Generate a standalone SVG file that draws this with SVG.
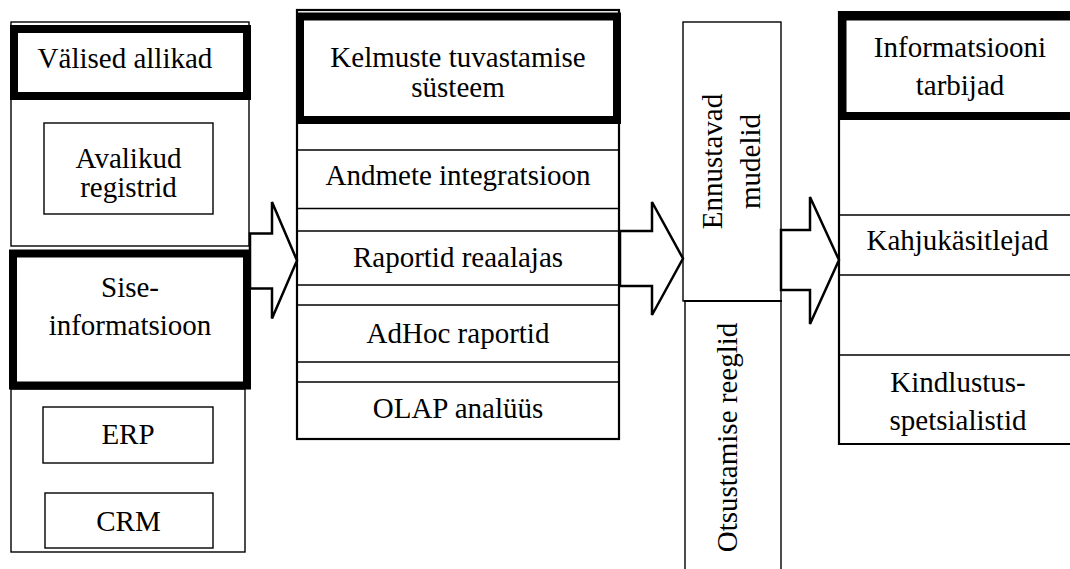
<svg xmlns="http://www.w3.org/2000/svg" width="1070" height="569" viewBox="0 0 1070 569" font-family="'Liberation Serif', 'Times New Roman', 'DejaVu Serif', serif">
<style>
.thin{fill:none;stroke:#000;stroke-width:1.4}
.med{fill:none;stroke:#000;stroke-width:2.2}
.thick{fill:none;stroke:#000;stroke-width:8}
.arrow{fill:#fff;stroke:#000;stroke-width:2.5;stroke-linejoin:miter}
.t{font-family:'Liberation Serif','Times New Roman','DejaVu Serif',serif;font-size:29px;fill:#000;text-anchor:middle}
</style>
<rect x="0" y="0" width="1070" height="569" fill="#fff"/>

<g id="col1-valised">
  <rect class="thin" x="11" y="22" width="238" height="224"/>
  <rect class="thick" x="14" y="29" width="233" height="67"/>
  <text class="t" x="125" y="68">Välised allikad</text>
</g>
<g id="avalikud-registrid">
  <rect class="thin" x="44" y="123" width="169" height="91"/>
  <text class="t" x="128.5" y="168">Avalikud</text>
  <text class="t" x="128.5" y="197">registrid</text>
</g>
<g id="col1-sise">
  <rect class="thin" x="11" y="389" width="234" height="163"/>
  <rect class="thick" x="13" y="253.5" width="234" height="132"/>
  <text class="t" x="130" y="297">Sise-</text>
  <text class="t" x="130" y="335">informatsioon</text>
</g>
<g id="erp">
  <rect class="thin" x="43" y="407" width="170" height="56"/>
  <text class="t" x="128" y="444">ERP</text>
</g>
<g id="crm">
  <rect class="thin" x="45" y="493" width="168" height="55"/>
  <text class="t" x="128.5" y="531">CRM</text>
</g>

<g id="col2-kelmuste">
  <rect class="med" x="297" y="10" width="322" height="429"/>
  <rect class="thick" x="300" y="16.5" width="317" height="103.5"/>
  <text class="t" x="458" y="67">Kelmuste tuvastamise</text>
  <text class="t" x="458" y="97">süsteem</text>
  <line class="thin" x1="297" y1="150" x2="619" y2="150"/>
  <line class="thin" x1="297" y1="208.5" x2="619" y2="208.5"/>
  <line class="thin" x1="297" y1="231" x2="619" y2="231"/>
  <line class="thin" x1="297" y1="285" x2="619" y2="285"/>
  <line class="thin" x1="297" y1="305" x2="619" y2="305"/>
  <line class="thin" x1="297" y1="362" x2="619" y2="362"/>
  <line class="thin" x1="297" y1="382" x2="619" y2="382"/>
</g>
<g id="andmete-integratsioon"><text class="t" x="458" y="185">Andmete integratsioon</text></g>
<g id="raportid-reaalajas"><text class="t" x="458" y="267">Raportid reaalajas</text></g>
<g id="adhoc-raportid"><text class="t" x="458" y="343">AdHoc raportid</text></g>
<g id="olap-analuus"><text class="t" x="458" y="418">OLAP analüüs</text></g>

<g id="ennustavad-mudelid">
  <rect class="thin" x="683" y="22" width="98" height="279"/>
  <text class="t" transform="translate(721.5,161.5) rotate(-90)">Ennustavad</text>
  <text class="t" transform="translate(760,161.5) rotate(-90)">mudelid</text>
</g>
<g id="otsustamise-reeglid">
  <path class="thin" d="M685,575 V301 H781 V575"/>
  <line class="med" x1="684" y1="301" x2="782" y2="301"/>
  <text class="t" transform="translate(737,437.5) rotate(-90)">Otsustamise reeglid</text>
</g>

<g id="col4-informatsiooni">
  <path class="med" d="M1080,12 H839 V444 H1080"/>
  <rect class="thick" x="842.5" y="16.5" width="240" height="99.5"/>
  <text class="t" x="960" y="57">Informatsiooni</text>
  <text class="t" x="960" y="95">tarbijad</text>
  <line class="thin" x1="839" y1="215" x2="1080" y2="215"/>
  <line class="thin" x1="839" y1="275" x2="1080" y2="275"/>
  <line class="thin" x1="839" y1="355" x2="1080" y2="355"/>
</g>
<g id="kahjukasitlejad"><text class="t" x="957.5" y="250">Kahjukäsitlejad</text></g>
<g id="kindlustusspetsialistid">
  <text class="t" x="958" y="392">Kindlustus-</text>
  <text class="t" x="958" y="429.5">spetsialistid</text>
</g>

<g id="connectors">
  <polygon class="arrow" points="250,233.5 272,233.5 272,202 297,260.5 272,318.5 272,288.5 250,288.5"/>
  <polygon class="arrow" points="620,231 652,231 652,202 683,258.5 652,315 652,286 620,286"/>
  <polygon class="arrow" points="781,230 810,230 810,197 839,260 810,324 810,290 781,290"/>
</g>
</svg>
